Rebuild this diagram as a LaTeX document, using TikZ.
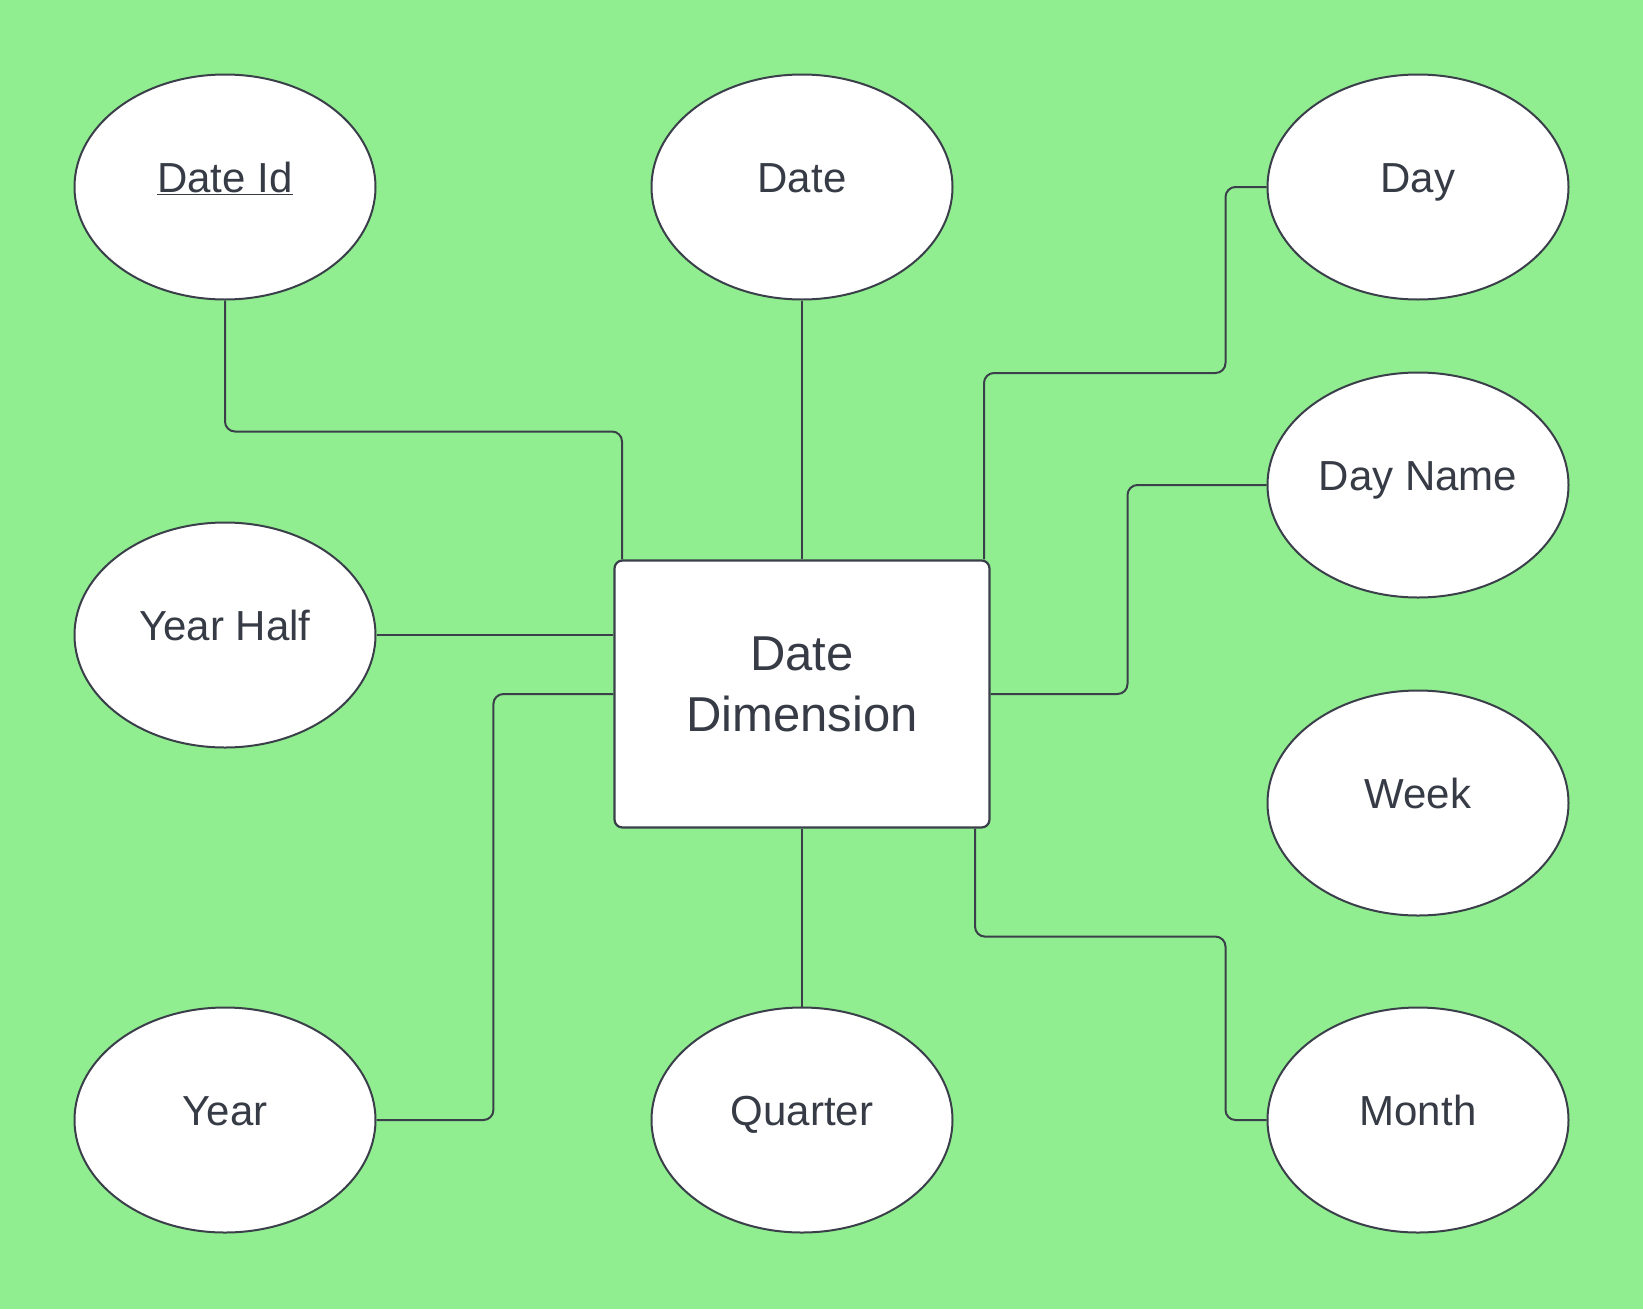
\documentclass[tikz,border=0pt]{standalone}
\usepackage{fontspec}
\setmainfont{Liberation Sans}
\usepackage{xcolor}
\usepackage{tikz}
\usetikzlibrary{shapes.geometric,positioning}
\definecolor{bggreen}{HTML}{90EE90}
\definecolor{edge}{HTML}{3A3F4A}
\definecolor{ink}{HTML}{363B45}

\begin{document}
\begin{tikzpicture}[
  x=1pt,y=-1pt,
  attr/.style={draw=edge,line width=2pt,fill=white,ellipse,inner sep=0pt,
               minimum width=301pt,minimum height=225pt,text=ink,
               font=\fontsize{42}{50}\selectfont,
               text height=31pt,text depth=20pt},
  ent/.style={draw=edge,line width=2.2pt,fill=white,rounded corners=8pt,
              minimum width=375pt,minimum height=267pt,inner sep=0pt,
              align=center,text=ink,font=\fontsize{49}{60.7}\selectfont},
  ln/.style={draw=edge,line width=2pt,rounded corners=10pt},
  lnthin/.style={draw=edge,line width=1.3pt}]

\fill[bggreen] (0,0) rectangle (1643,1309);
\useasboundingbox (0,0) rectangle (1643,1309);

% entity
\node[ent] (dd) at (802,694) {Date\\Dimension\rule[-20pt]{0pt}{0pt}};

% attributes
\node[attr] (did) at (225,187)  {\underline{Date Id}};
\node[attr] (dt)  at (802,187)  {Date};
\node[attr] (dy)  at (1418,187) {Day};
\node[attr] (dn)  at (1418,485) {Day Name};
\node[attr] (yh)  at (225,635)  {Year Half};
\node[attr] (wk)  at (1418,803) {Week};
\node[attr] (yr)  at (225,1120) {Year};
\node[attr] (qt)  at (802,1120) {Quarter};
\node[attr] (mo)  at (1418,1120) {Month};

% connectors
\draw[ln] (did.south) -- ++(0,131) -| ([xshift=-180pt]dd.north);
\draw[lnthin] (dt.south) -- (dd.north);
\draw[ln] (dy.west) -- ++(-41,0) -- ++(0,186) -| ([xshift=182pt]dd.north);
\draw[ln] (dn.west) -- ++(-139,0) |- (dd.east);
\draw[lnthin] (yh.east) -- (yh.east -| dd.west);
\draw[ln] (dd.west) -- ++(-120,0) |- (yr.east);
\draw[lnthin] (dd.south) -- (qt.north);
\draw[ln] ([xshift=173pt]dd.south) -- ++(0,108) -| ([xshift=-41pt]mo.west) -- (mo.west);
\end{tikzpicture}
\end{document}
